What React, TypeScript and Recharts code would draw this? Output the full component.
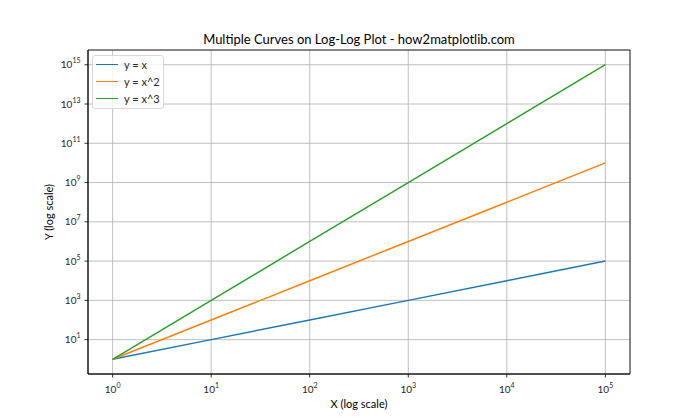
import React from "react";
import {
  LineChart,
  Line,
  XAxis,
  YAxis,
  CartesianGrid,
  ReferenceArea,
} from "recharts";

const xValues = [1, 10, 100, 1000, 10000, 100000];
const yLinear = [1, 10, 100, 1000, 10000, 100000];
const yQuadratic = [1, 100, 1e4, 1e6, 1e8, 1e10];
const yCubic = [1, 1e3, 1e6, 1e9, 1e12, 1e15];

const xTicks = [1, 10, 100, 1000, 10000, 100000];
const xMinorTicks = [
  2, 3, 4, 5, 6, 7, 8, 9,
  20, 30, 40, 50, 60, 70, 80, 90,
  200, 300, 400, 500, 600, 700, 800, 900,
  2000, 3000, 4000, 5000, 6000, 7000, 8000, 9000,
  20000, 30000, 40000, 50000, 60000, 70000, 80000, 90000,
];
const yTicks = [1e1, 1e3, 1e5, 1e7, 1e9, 1e11, 1e13, 1e15];

const xDomain: [number, number] = [Math.pow(10, -0.25), Math.pow(10, 5.25)];
const yDomain: [number, number] = [Math.pow(10, -0.75), Math.pow(10, 15.75)];

const seriesNames = ["y = x", "y = x^2", "y = x^3"];
const seriesKeys = ["lin", "quad", "cub"];
const seriesColors = ["#1f77b4", "#ff7f0e", "#2ca02c"];

const data = xValues.map((x, i) => ({
  x,
  lin: yLinear[i],
  quad: yQuadratic[i],
  cub: yCubic[i],
}));

const FONT = "Lato, 'Noto Sans', sans-serif";

const XTick = (props: any) => {
  const { x, y, payload } = props;
  const e = Math.round(Math.log10(payload.value));
  return (
    <text x={x} y={y + 13} textAnchor="middle" fontSize={10} fill="#262626" fontFamily={FONT}>
      <tspan>10</tspan>
      <tspan dy={-5} fontSize={7}>{e}</tspan>
    </text>
  );
};

const YTick = (props: any) => {
  const { x, y, payload } = props;
  const e = Math.round(Math.log10(payload.value));
  return (
    <text x={x - 2} y={y + 3.5} textAnchor="end" fontSize={10} fill="#262626" fontFamily={FONT}>
      <tspan>10</tspan>
      <tspan dy={-5} fontSize={7}>{e}</tspan>
    </text>
  );
};

const EmptyTick = () => <g />;

const LegendBox = () => (
  <div
    style={{
      position: "absolute",
      left: 92,
      top: 55,
      width: 72,
      height: 54,
      border: "1px solid #d9d9d9",
      borderRadius: 3,
      background: "rgba(255,255,255,0.8)",
      fontFamily: FONT,
      fontSize: 11,
      lineHeight: "17px",
      color: "#262626",
      boxSizing: "border-box",
      paddingTop: 0,
    }}
  >
    {seriesNames.map((n, i) => (
      <div key={n} style={{ display: "flex", alignItems: "center", height: 17 }}>
        <div
          style={{
            marginLeft: 3,
            width: 22,
            height: 0,
            borderTop: `1.5px solid ${seriesColors[i]}`,
          }}
        />
        <span style={{ marginLeft: 6 }}>{n}</span>
      </div>
    ))}
  </div>
);

export default function App() {
  return (
    <div style={{ position: "absolute", left: 0, top: 0, width: 700, height: 420, background: "#fff" }}>
      <LineChart
        width={700}
        height={420}
        data={data}
        margin={{ top: 50, right: 70, bottom: 16, left: 28 }}
        style={{ fontFamily: FONT }}
      >
        <text x={359} y={44} textAnchor="middle" fontSize={13} fill="#000" fontFamily={FONT}>
          Multiple Curves on Log-Log Plot - how2matplotlib.com
        </text>
        <text x={359} y={408} textAnchor="middle" fontSize={11} fill="#000" fontFamily={FONT}>
          X (log scale)
        </text>
        <text
          x={48}
          y={212}
          textAnchor="middle"
          fontSize={11}
          fill="#000"
          fontFamily={FONT}
          transform="rotate(-90 48 212)"
          dominantBaseline="central"
        >
          Y (log scale)
        </text>
        <CartesianGrid stroke="#b0b0b0" strokeWidth={0.8} />
        <XAxis
          dataKey="x"
          type="number"
          scale="log"
          domain={xDomain}
          allowDataOverflow
          ticks={xTicks}
          tick={<XTick />}
          tickSize={3.5}
          tickLine={{ stroke: "#000", strokeWidth: 0.8 }}
          axisLine={{ stroke: "#000", strokeWidth: 0.8 }}
          height={30}
          interval={0}
        />
        <XAxis
          xAxisId="minor"
          dataKey="x"
          type="number"
          scale="log"
          domain={xDomain}
          allowDataOverflow
          ticks={xMinorTicks}
          tick={<EmptyTick />}
          tickSize={2}
          tickLine={{ stroke: "#000", strokeWidth: 0.6 }}
          axisLine={false}
          height={0}
          interval={0}
        />
        <YAxis
          type="number"
          scale="log"
          domain={yDomain}
          allowDataOverflow
          ticks={yTicks}
          tick={<YTick />}
          tickSize={3.5}
          tickLine={{ stroke: "#000", strokeWidth: 0.8 }}
          axisLine={{ stroke: "#000", strokeWidth: 0.8 }}
          width={60}
          interval={0}
        />
        <ReferenceArea
          x1={xDomain[0]}
          x2={xDomain[1]}
          y1={yDomain[0]}
          y2={yDomain[1]}
          fill="none"
          stroke="#000"
          strokeWidth={0.8}
          fillOpacity={0}
        />
        {seriesKeys.map((k, i) => (
          <Line
            key={k}
            dataKey={k}
            name={seriesNames[i]}
            stroke={seriesColors[i]}
            strokeWidth={1.5}
            dot={false}
            type="linear"
            isAnimationActive={false}
          />
        ))}
      </LineChart>
      <LegendBox />
    </div>
  );
}
